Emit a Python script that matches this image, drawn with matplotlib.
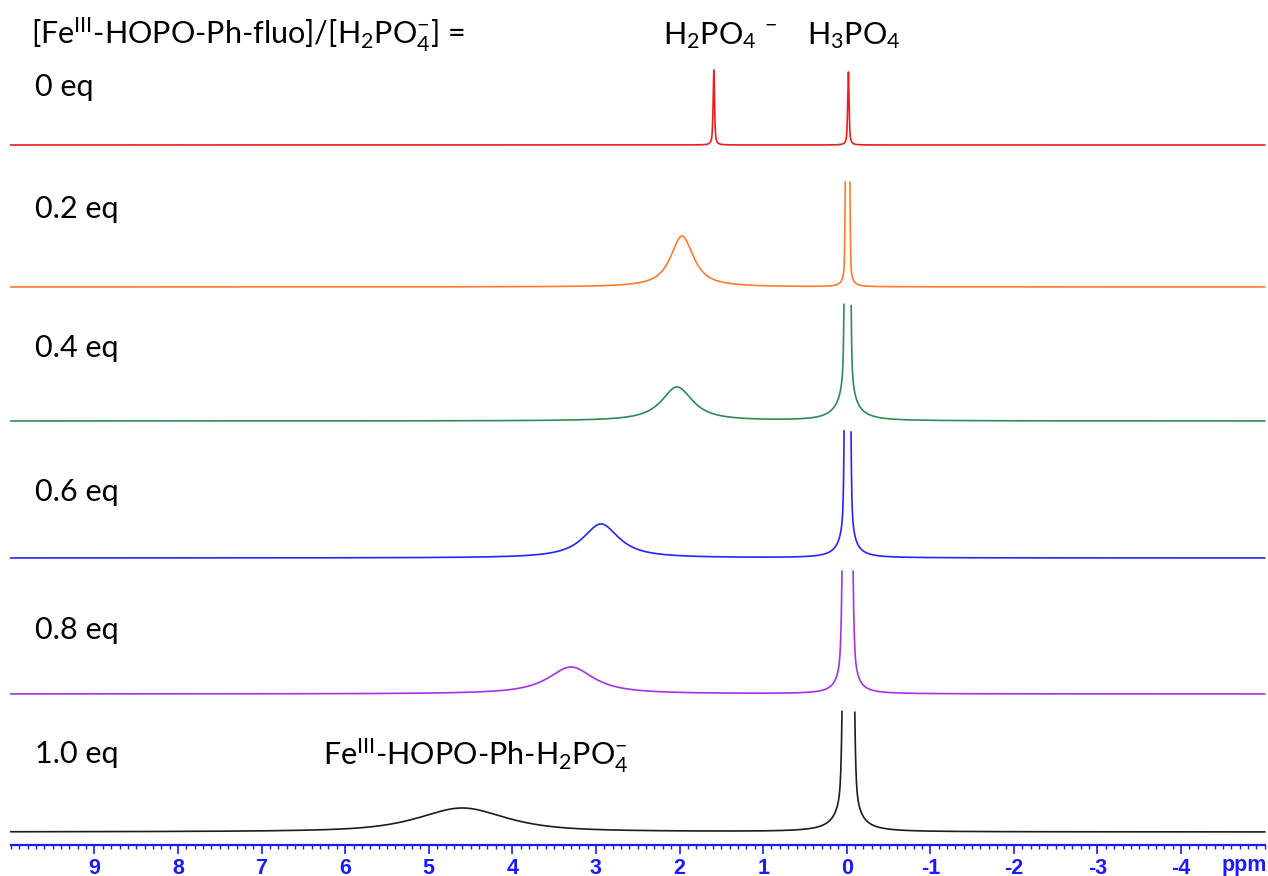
import numpy as np
import matplotlib.pyplot as plt
from matplotlib.ticker import FixedLocator

plt.rcParams['font.family'] = ['Lato', 'DejaVu Sans']
plt.rcParams['mathtext.fontset'] = 'custom'
plt.rcParams['mathtext.rm'] = 'Lato'
plt.rcParams['mathtext.default'] = 'regular'

# titration steps (top -> bottom)
eq_labels = ['0 eq', '0.2 eq', '0.4 eq', '0.6 eq', '0.8 eq', '1.0 eq']
colors = ['#f01c1c', '#ff7a2e', '#2e8b57', '#2424ff', '#a332e8', '#1c1c1c']

# peaks: (shift ppm, height, fwhm ppm, lorentzian fraction)
peaks_0 = [(1.59, 75, 0.02, 0.7), (-0.02, 73, 0.02, 0.7)]
peaks_02 = [(1.97, 51, 0.33, 0.9), (-0.01, 1000, 0.03, 0.15)]
peaks_04 = [(2.03, 34, 0.45, 0.95), (-0.01, 1500, 0.04, 0.2), (0.0, 18, 0.3, 1.0)]
peaks_06 = [(2.94, 34, 0.52, 0.95), (-0.01, 1500, 0.04, 0.2), (0.0, 12, 0.25, 1.0)]
peaks_08 = [(3.30, 27, 0.66, 0.95), (-0.01, 1500, 0.065, 0.2)]
peaks_10 = [(4.60, 24, 1.25, 0.75), (-0.02, 2000, 0.07, 0.15), (0.0, 8, 0.4, 1.0)]
all_peaks = [peaks_0, peaks_02, peaks_04, peaks_06, peaks_08, peaks_10]

# vertical layout (px from top)
offsets = [145, 287, 421, 558, 694, 832]
label_y = [96, 218, 357, 501, 639, 763]
clip = 130

ppm = np.linspace(10, -5, 9001)


def spectrum(plist):
    y = np.zeros_like(ppm)
    for c, h, w, eta in plist:
        d = ppm - c
        lor = 1 / (1 + (2 * d / w) ** 2)
        gau = np.exp(-4 * np.log(2) * (d / w) ** 2)
        y += h * (eta * lor + (1 - eta) * gau)
    return y


fig = plt.figure(figsize=(12.68, 8.76), dpi=100)
ax = fig.add_axes([0, 0, 1, 1])
ax.set_xlim(10.13, -5.04)
ax.set_ylim(876, 0)

for plist, col, off in zip(all_peaks, colors, offsets):
    y = spectrum(plist)
    y[y > clip] = np.nan
    ax.plot(ppm, off - y, color=col, lw=1.2)

for lab, yy in zip(eq_labels, label_y):
    ax.text(9.71, yy, lab, fontsize=22, va='baseline', ha='left')

ax.text(9.76, 44, r'[Fe$^{III}$-HOPO-Ph-fluo]/[H$_2$PO$_4^{-}$] =',
        fontsize=22, va='baseline', ha='left')
ax.text(2.20, 44, r'H$_2$PO$_4$ $^{-}$', fontsize=22, va='baseline', ha='left')
ax.text(0.48, 44, r'H$_3$PO$_4$', fontsize=22, va='baseline', ha='left')
ax.text(6.26, 765, r'Fe$^{III}$-HOPO-Ph-H$_2$PO$_4^{-}$', fontsize=22,
        va='baseline', ha='left')

# ppm axis, Topspin style
blue = '#1a1aff'
for s in ['left', 'right', 'top']:
    ax.spines[s].set_visible(False)
ax.spines['bottom'].set_position(('data', 845))
ax.spines['bottom'].set_bounds(-5, 10)
ax.spines['bottom'].set_color(blue)
ax.spines['bottom'].set_linewidth(1.6)
ax.set_yticks([])
major = list(range(9, -5, -1))
ax.set_xticks(major, [str(v) for v in major], fontfamily='Liberation Sans',
              fontweight='bold')
ax.xaxis.set_minor_locator(FixedLocator(np.arange(-50, 101) / 10))
ax.tick_params(axis='x', which='major', length=6.5, width=1.2, color=blue,
               labelcolor=blue, labelsize=15.5, pad=2.5)
ax.tick_params(axis='x', which='minor', length=3, width=1, color=blue)
ax.text(-4.76, 866, 'ppm', color=blue, fontfamily='Liberation Sans',
        fontweight='bold', fontsize=15.5, ha='center', va='center')

fig.savefig('out.png', dpi=100)
